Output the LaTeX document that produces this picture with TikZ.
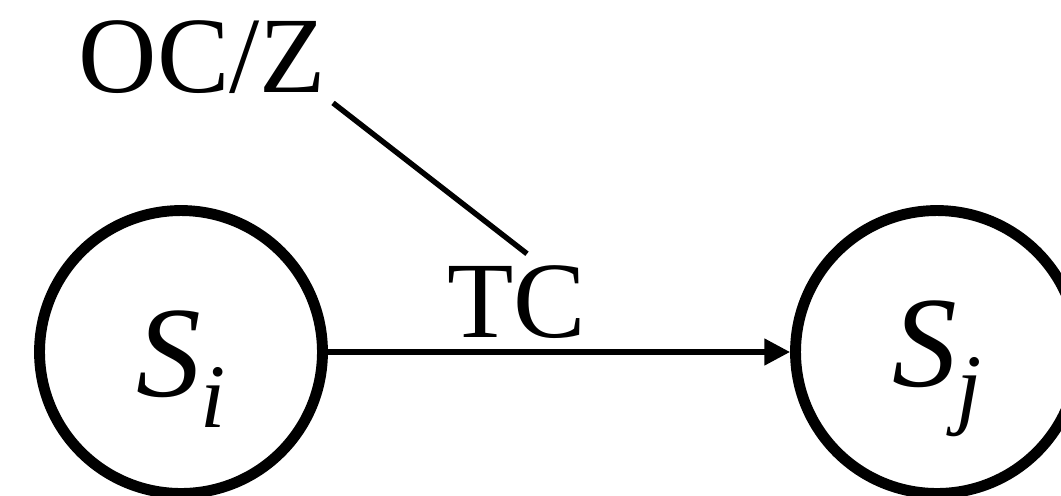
\documentclass[tikz,border=0pt]{standalone}
\usepackage{fontspec}
\setmainfont{Liberation Serif}
\usetikzlibrary{arrows.meta, calc, positioning}
\tikzset{%
>={Triangle[width=14.7pt,length=14.7pt]},
  % Specifications for style of nodes:
            state/.style = {circle, draw=black, line width=6.2pt,
                            minimum size=5.66cm, inner sep=0pt,
                            font=\fontsize{73.7}{80}\selectfont},
            tag/.style = {inner sep=0pt, anchor=base,
                            font=\fontsize{61.8}{66}\selectfont},
            link/.style = {line width=3.1pt}
}
\newcommand{\statename}[1]{\raisebox{-9.6pt}[\height][\depth]{\textit{S}\raisebox{-17.6pt}{\fontsize{51.6}{55}\selectfont\textit{#1}}}}

\begin{document}
\begin{tikzpicture}[x=0.02cm, y=-0.02cm]
                \useasboundingbox (0,0) rectangle (1061,495);

                \node[state] (si) at (181,352) {\statename{i}};
                \node[state] (sj) at (937,352) {\statename{j}};
                \node[tag] (tc) at (517,337) {TC};
                \node[tag] (ocz) at (202.5,92) {OC/Z};

                \draw[link, ->] (si) -- (sj);
                \draw[link] ($(ocz.south east)+(6.5,9.5)$) -- ($(tc.north)+(10,-11)$);
\end{tikzpicture}
\end{document}
